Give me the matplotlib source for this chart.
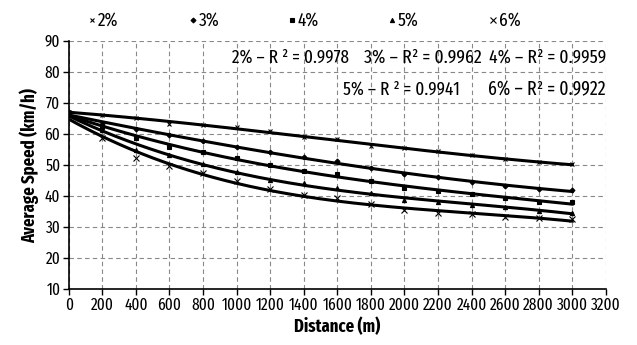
import numpy as np
import matplotlib
matplotlib.use("Agg")
import matplotlib.pyplot as plt
from matplotlib.lines import Line2D

FONT = 'Fira Sans Extra Condensed'
plt.rcParams['font.family'] = [FONT, 'DejaVu Sans']

distance = [0, 200, 400, 600, 800, 1000, 1200, 1400, 1600, 1800, 2000, 2200, 2400, 2600, 2800, 3000]
speed_2 = [67.2, 66.1, 65.3, 63.2, 62.9, 62.2, 61.0, 58.9, 58.3, 56.0, 55.4, 54.4, 53.2, 51.9, 50.9, 50.2]
speed_3 = [67.0, 63.1, 61.5, 59.7, 57.8, 55.7, 54.2, 52.5, 51.2, 48.9, 47.2, 46.1, 44.4, 43.3, 42.3, 41.9]
speed_4 = [66.8, 62.4, 58.6, 55.9, 54.1, 52.3, 50.0, 48.1, 47.1, 44.9, 42.7, 41.7, 40.6, 39.3, 38.2, 38.0]
speed_5 = [66.6, 61.3, 54.8, 53.2, 50.4, 47.8, 45.3, 44.3, 42.6, 40.9, 38.7, 38.0, 37.1, 36.5, 35.3, 34.7]
speed_6 = [66.4, 58.6, 52.3, 49.7, 47.5, 44.8, 42.2, 40.3, 39.3, 37.6, 35.5, 34.7, 34.1, 33.3, 32.8, 32.6]
labels = ['2%', '3%', '4%', '5%', '6%']
r2_texts = ['2% – R ² = 0.9978', '3% – R² = 0.9962', '4% – R² = 0.9959',
            '5% – R ² = 0.9941', '6% – R² = 0.9922']

series = [speed_2, speed_3, speed_4, speed_5, speed_6]
markers = ['x', 'D', 's', '^', 'x']
msizes = [3.2, 2.5, 3, 3, 4]

fig = plt.figure(figsize=(6.37, 3.45), dpi=100)
ax = fig.add_axes([0.108, 0.162, 0.843, 0.719])

x = np.array(distance)
xs = np.linspace(0, 3000, 300)
for ys, m, ms in zip(series, markers, msizes):
    coef = np.polyfit(x, ys, 3)
    ax.plot(xs, np.polyval(coef, xs), color='black', lw=2.2, zorder=3)
    ax.plot(x, ys, linestyle='none', marker=m, ms=ms, color='black',
            markeredgewidth=0.8, zorder=4)

ax.set_xlim(0, 3200)
ax.set_ylim(10, 90)
ax.set_xticks(np.arange(0, 3201, 200))
ax.set_yticks(np.arange(10, 91, 10))
ax.grid(True, linestyle=(0, (4, 3)), color='#888888', lw=0.8)
ax.set_axisbelow(True)
for s in ['top', 'right']:
    ax.spines[s].set_visible(False)
ax.spines['left'].set_linewidth(1.2)
ax.spines['bottom'].set_linewidth(1.2)
ax.tick_params(labelsize=12, length=4, width=1, pad=2)
ax.set_xlabel('Distance (m)', fontsize=13, fontweight='bold', labelpad=3)
ax.set_ylabel('Average Speed (km/h)', fontsize=13, fontweight='bold', labelpad=4)

# R^2 annotations (fit each to about the reference width)
specs = [(0.3035, 0.935, 'left'), (0.549, 0.935, 'left'), (1.0, 0.935, 'right'),
         (0.510, 0.806, 'left'), (1.0, 0.806, 'right')]
fig.canvas.draw()
renderer = fig.canvas.get_renderer()
for t, (px, py, ha) in zip(r2_texts, specs):
    txt = ax.text(px, py, t, transform=ax.transAxes, fontsize=14, va='center', ha=ha)
    w = txt.get_window_extent(renderer).width
    txt.set_fontsize(14 * 117 / w)

# legend row above the plot
leg_x = [92, 193, 292, 392, 493]
for lx, lab, m, ms in zip(leg_x, labels, markers, msizes):
    fig.add_artist(Line2D([lx / 637], [1 - 20 / 345], transform=fig.transFigure,
                          linestyle='none', marker=m, ms=ms, color='black', markeredgewidth=0.8))
    fig.text((lx + 6) / 637, 1 - 20 / 345, lab, fontsize=13.5, va='center', ha='left')

fig.savefig('out.png', dpi=100)
